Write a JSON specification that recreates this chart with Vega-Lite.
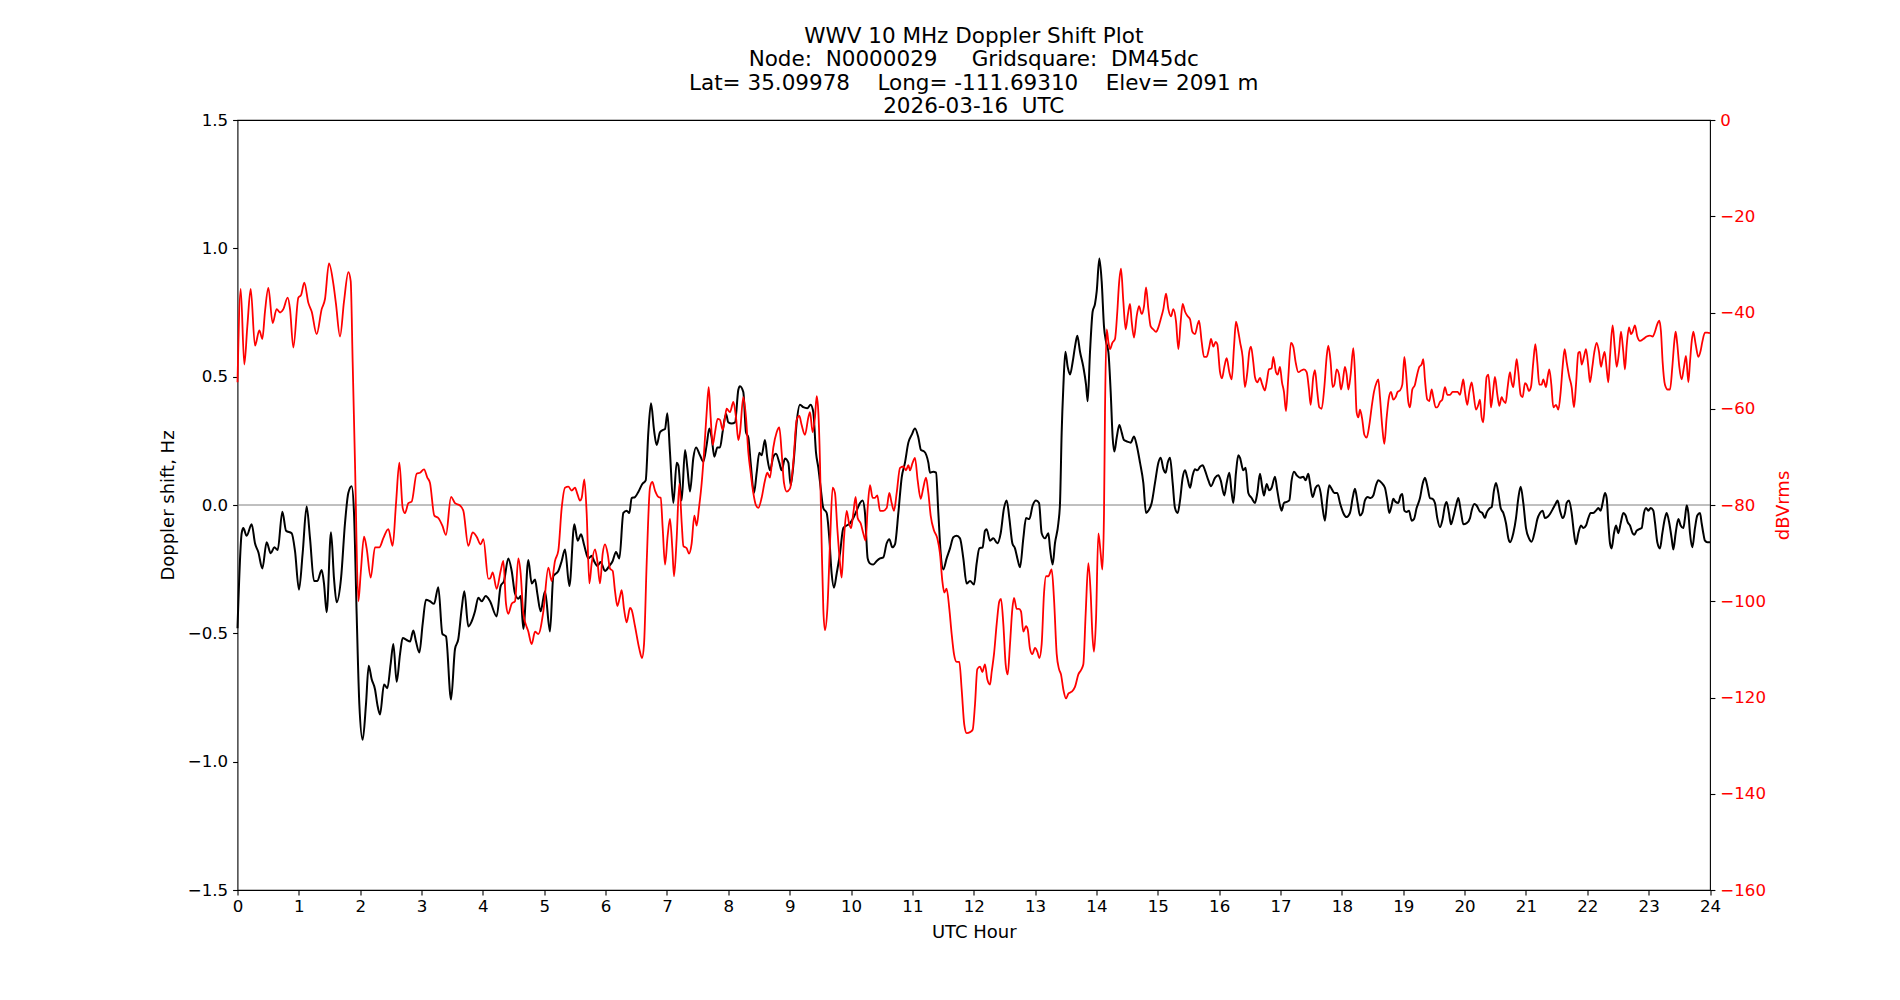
{
  "$schema": "https://vega.github.io/schema/vega-lite/v6.json",
  "width": 1472.5,
  "height": 770,
  "autosize": {"type": "none"},
  "padding": {"left": 237.5, "top": 120, "right": 190, "bottom": 110},
  "background": "white",
  "title": {
    "text": [
      "WWV 10 MHz Doppler Shift Plot",
      "Node:\u00a0\u00a0N0000029\u00a0\u00a0\u00a0\u00a0\u00a0Gridsquare:\u00a0\u00a0DM45dc",
      "Lat=\u00a035.09978\u00a0\u00a0\u00a0\u00a0Long=\u00a0-111.69310\u00a0\u00a0\u00a0\u00a0Elev=\u00a02091\u00a0m",
      "2026-03-16\u00a0\u00a0UTC"
    ],
    "font": "DejaVu Sans",
    "fontSize": 21.5,
    "fontWeight": "normal",
    "color": "black",
    "lineHeight": 23.3,
    "offset": -5.5,
    "anchor": "middle"
  },
  "config": {
    "view": {"stroke": "black", "strokeWidth": 1.1},
    "axis": {
      "labelFont": "DejaVu Sans",
      "labelFontSize": 16.67,
      "labelColor": "black",
      "titleFont": "DejaVu Sans",
      "titleFontSize": 18,
      "titleFontWeight": "normal",
      "titleColor": "black",
      "tickColor": "black",
      "tickWidth": 1.1,
      "tickSize": 4.9,
      "labelPadding": 4.9,
      "domain": false,
      "grid": false,
      "labelFlush": false,
      "labelOverlap": false,
      "labelBound": false
    }
  },
  "datasets": {
    "doppler": [
      {"h":0,"v":-0.48},{"h":0.068,"v":-0.110},{"h":0.095,"v":-0.090},{"h":0.149,"v":-0.120},{"h":0.231,"v":-0.075},{"h":0.285,"v":-0.149},{"h":0.340,"v":-0.184},{"h":0.405,"v":-0.247},{"h":0.475,"v":-0.145},{"h":0.541,"v":-0.188},{"h":0.600,"v":-0.165},{"h":0.655,"v":-0.175},{"h":0.731,"v":-0.026},{"h":0.791,"v":-0.100},{"h":0.883,"v":-0.110},{"h":0.937,"v":-0.179},{"h":1.002,"v":-0.330},{"h":1.062,"v":-0.188},{"h":1.127,"v":-0.006},{"h":1.182,"v":-0.130},{"h":1.247,"v":-0.296},{"h":1.301,"v":-0.296},{"h":1.372,"v":-0.253},{"h":1.410,"v":-0.306},{"h":1.453,"v":-0.418},{"h":1.524,"v":-0.106},{"h":1.573,"v":-0.287},{"h":1.616,"v":-0.379},{"h":1.687,"v":-0.287},{"h":1.752,"v":-0.071},{"h":1.806,"v":0.047},{"h":1.861,"v":0.073},{"h":1.899,"v":-0.031},{"h":1.942,"v":-0.424},{"h":1.986,"v":-0.777},{"h":2.040,"v":-0.915},{"h":2.094,"v":-0.777},{"h":2.138,"v":-0.626},{"h":2.187,"v":-0.679},{"h":2.241,"v":-0.718},{"h":2.279,"v":-0.777},{"h":2.323,"v":-0.816},{"h":2.388,"v":-0.699},{"h":2.442,"v":-0.714},{"h":2.496,"v":-0.620},{"h":2.540,"v":-0.542},{"h":2.594,"v":-0.689},{"h":2.649,"v":-0.581},{"h":2.692,"v":-0.518},{"h":2.757,"v":-0.526},{"h":2.812,"v":-0.532},{"h":2.866,"v":-0.489},{"h":2.909,"v":-0.532},{"h":2.964,"v":-0.575},{"h":3.018,"v":-0.463},{"h":3.072,"v":-0.369},{"h":3.137,"v":-0.375},{"h":3.203,"v":-0.385},{"h":3.273,"v":-0.320},{"h":3.339,"v":-0.502},{"h":3.398,"v":-0.512},{"h":3.480,"v":-0.758},{"h":3.545,"v":-0.561},{"h":3.599,"v":-0.522},{"h":3.654,"v":-0.404},{"h":3.697,"v":-0.336},{"h":3.762,"v":-0.473},{"h":3.817,"v":-0.453},{"h":3.871,"v":-0.414},{"h":3.925,"v":-0.361},{"h":3.980,"v":-0.375},{"h":4.045,"v":-0.355},{"h":4.116,"v":-0.375},
      {"h":4.224,"v":-0.434},{"h":4.289,"v":-0.316},{"h":4.344,"v":-0.296},{"h":4.414,"v":-0.208},{"h":4.469,"v":-0.257},{"h":4.523,"v":-0.345},{"h":4.577,"v":-0.365},{"h":4.615,"v":-0.355},{"h":4.659,"v":-0.483},{"h":4.740,"v":-0.214},{"h":4.795,"v":-0.306},{"h":4.849,"v":-0.290},{"h":4.887,"v":-0.345},{"h":4.941,"v":-0.414},{"h":5.012,"v":-0.336},{"h":5.093,"v":-0.493},{"h":5.148,"v":-0.277},{"h":5.229,"v":-0.257},{"h":5.284,"v":-0.218},{"h":5.338,"v":-0.173},{"h":5.409,"v":-0.316},{"h":5.490,"v":-0.075},{"h":5.544,"v":-0.139},{"h":5.599,"v":-0.114},{"h":5.653,"v":-0.159},{"h":5.718,"v":-0.208},{"h":5.773,"v":-0.198},{"h":5.811,"v":-0.218},{"h":5.865,"v":-0.237},{"h":5.919,"v":-0.222},{"h":5.990,"v":-0.257},{"h":6.061,"v":-0.237},{"h":6.115,"v":-0.218},{"h":6.169,"v":-0.183},{"h":6.224,"v":-0.208},{"h":6.289,"v":-0.031},{"h":6.343,"v":-0.022},{"h":6.386,"v":-0.031},{"h":6.424,"v":0.027},{"h":6.479,"v":0.031},{"h":6.533,"v":0.051},{"h":6.598,"v":0.082},{"h":6.653,"v":0.096},{"h":6.696,"v":0.283},{"h":6.740,"v":0.396},{"h":6.789,"v":0.292},{"h":6.832,"v":0.234},{"h":6.886,"v":0.283},{"h":6.930,"v":0.292},{"h":6.968,"v":0.296},{"h":7.006,"v":0.357},{"h":7.049,"v":0.204},{"h":7.104,"v":0.008},{"h":7.158,"v":0.165},{"h":7.185,"v":0.155},{"h":7.239,"v":0.018},{"h":7.294,"v":0.214},{"h":7.332,"v":0.145},{"h":7.375,"v":0.053},{"h":7.430,"v":0.184},{"h":7.473,"v":0.224},{"h":7.538,"v":0.194},{"h":7.593,"v":0.169},{"h":7.647,"v":0.234},{"h":7.690,"v":0.298},{"h":7.728,"v":0.263},{"h":7.772,"v":0.188},{"h":7.821,"v":0.224},{"h":7.864,"v":0.224},{"h":7.908,"v":0.287},{"h":7.962,"v":0.355},{"h":8.000,"v":0.322},{"h":8.054,"v":0.318},{"h":8.109,"v":0.322},{"h":8.163,"v":0.449},{"h":8.190,"v":0.463},
      {"h":8.244,"v":0.440},{"h":8.288,"v":0.283},{"h":8.326,"v":0.263},{"h":8.364,"v":0.165},{"h":8.418,"v":0.047},{"h":8.462,"v":0.126},{"h":8.505,"v":0.204},{"h":8.543,"v":0.194},{"h":8.597,"v":0.253},{"h":8.635,"v":0.184},{"h":8.679,"v":0.135},{"h":8.733,"v":0.188},{"h":8.777,"v":0.200},{"h":8.831,"v":0.165},{"h":8.869,"v":0.135},{"h":8.923,"v":0.181},{"h":8.978,"v":0.165},{"h":9.016,"v":0.077},{"h":9.070,"v":0.184},{"h":9.114,"v":0.322},{"h":9.168,"v":0.391},{"h":9.222,"v":0.381},{"h":9.287,"v":0.377},{"h":9.342,"v":0.391},{"h":9.385,"v":0.361},{"h":9.429,"v":0.204},{"h":9.467,"v":0.145},{"h":9.505,"v":0.067},{"h":9.548,"v":-0.012},{"h":9.603,"v":-0.031},{"h":9.646,"v":-0.130},{"h":9.684,"v":-0.267},{"h":9.722,"v":-0.322},{"h":9.766,"v":-0.267},{"h":9.820,"v":-0.188},{"h":9.874,"v":-0.090},{"h":9.929,"v":-0.080},{"h":9.983,"v":-0.071},{"h":10.037,"v":-0.051},{"h":10.092,"v":-0.022},{"h":10.146,"v":0.008},{"h":10.189,"v":0.018},{"h":10.227,"v":-0.031},{"h":10.271,"v":-0.208},{"h":10.309,"v":-0.228},{"h":10.363,"v":-0.232},{"h":10.418,"v":-0.218},{"h":10.472,"v":-0.208},{"h":10.526,"v":-0.204},{"h":10.581,"v":-0.149},{"h":10.624,"v":-0.133},{"h":10.673,"v":-0.165},{"h":10.716,"v":-0.153},{"h":10.771,"v":-0.031},{"h":10.825,"v":0.106},{"h":10.879,"v":0.165},{"h":10.934,"v":0.243},{"h":10.988,"v":0.273},{"h":11.042,"v":0.298},{"h":11.097,"v":0.263},{"h":11.140,"v":0.214},{"h":11.194,"v":0.208},{"h":11.260,"v":0.165},{"h":11.287,"v":0.126},{"h":11.341,"v":0.130},{"h":11.385,"v":0.126},{"h":11.423,"v":-0.031},{"h":11.461,"v":-0.188},{"h":11.504,"v":-0.251},{"h":11.558,"v":-0.208},{"h":11.613,"v":-0.169},{"h":11.667,"v":-0.126},{"h":11.721,"v":-0.120},{"h":11.776,"v":-0.130},{"h":11.830,"v":-0.208},{"h":11.884,"v":-0.306},{"h":11.939,"v":-0.296},{"h":12.004,"v":-0.310},{"h":12.047,"v":-0.228},{"h":12.091,"v":-0.169},{"h":12.145,"v":-0.165},{"h":12.183,"v":-0.100},{"h":12.210,"v":-0.094},{"h":12.265,"v":-0.139},
      {"h":12.319,"v":-0.130},{"h":12.385,"v":-0.149},{"h":12.439,"v":-0.110},{"h":12.493,"v":-0.012},{"h":12.537,"v":0.018},{"h":12.580,"v":-0.051},{"h":12.629,"v":-0.149},{"h":12.672,"v":-0.169},{"h":12.711,"v":-0.208},{"h":12.754,"v":-0.243},{"h":12.808,"v":-0.130},{"h":12.852,"v":-0.051},{"h":12.906,"v":-0.055},{"h":12.960,"v":-0.002},{"h":13.015,"v":0.018},{"h":13.064,"v":0.008},{"h":13.107,"v":-0.110},{"h":13.161,"v":-0.130},{"h":13.216,"v":-0.110},{"h":13.243,"v":-0.169},{"h":13.286,"v":-0.232},{"h":13.324,"v":-0.149},{"h":13.379,"v":-0.071},{"h":13.406,"v":0.008},{"h":13.433,"v":0.283},{"h":13.460,"v":0.459},{"h":13.493,"v":0.597},{"h":13.531,"v":0.538},{"h":13.569,"v":0.508},{"h":13.612,"v":0.557},{"h":13.650,"v":0.616},{"h":13.688,"v":0.659},{"h":13.732,"v":0.597},{"h":13.786,"v":0.538},{"h":13.830,"v":0.469},{"h":13.857,"v":0.404},{"h":13.895,"v":0.597},{"h":13.938,"v":0.754},{"h":13.976,"v":0.783},{"h":14.004,"v":0.832},{"h":14.047,"v":0.960},{"h":14.085,"v":0.871},{"h":14.123,"v":0.695},{"h":14.156,"v":0.636},{"h":14.194,"v":0.597},{"h":14.232,"v":0.440},{"h":14.264,"v":0.263},{"h":14.292,"v":0.208},{"h":14.330,"v":0.263},{"h":14.373,"v":0.312},{"h":14.411,"v":0.283},{"h":14.449,"v":0.253},{"h":14.503,"v":0.247},{"h":14.558,"v":0.243},{"h":14.612,"v":0.267},{"h":14.655,"v":0.234},{"h":14.710,"v":0.165},{"h":14.764,"v":0.086},{"h":14.808,"v":-0.031},{"h":14.846,"v":-0.022},{"h":14.900,"v":0.008},{"h":14.954,"v":0.086},{"h":15.009,"v":0.165},{"h":15.047,"v":0.184},{"h":15.090,"v":0.141},{"h":15.128,"v":0.126},{"h":15.161,"v":0.165},{"h":15.199,"v":0.184},{"h":15.242,"v":0.086},{"h":15.280,"v":-0.012},{"h":15.324,"v":-0.031},{"h":15.362,"v":0.018},{"h":15.405,"v":0.106},{"h":15.443,"v":0.135},{"h":15.481,"v":0.106},{"h":15.525,"v":0.067},{"h":15.568,"v":0.116},{"h":15.606,"v":0.139},{"h":15.644,"v":0.135},{"h":15.688,"v":0.149},{"h":15.731,"v":0.155},{"h":15.769,"v":0.135},{"h":15.824,"v":0.096},{"h":15.867,"v":0.073},{"h":15.932,"v":0.106},{"h":15.987,"v":0.116},{"h":16.025,"v":0.096},{"h":16.084,"v":0.037},{"h":16.122,"v":0.086},{"h":16.166,"v":0.126},{"h":16.204,"v":0.047},{"h":16.231,"v":0.008},{"h":16.274,"v":0.126},{"h":16.312,"v":0.194},{"h":16.340,"v":0.184},
      {"h":16.393,"v":0.135},{"h":16.431,"v":0.145},{"h":16.475,"v":0.047},{"h":16.529,"v":0.027},{"h":16.583,"v":0.008},{"h":16.622,"v":0.047},{"h":16.665,"v":0.122},{"h":16.703,"v":0.067},{"h":16.730,"v":0.037},{"h":16.774,"v":0.082},{"h":16.817,"v":0.057},{"h":16.855,"v":0.067},{"h":16.909,"v":0.110},{"h":16.947,"v":0.057},{"h":16.991,"v":-0.002},{"h":17.018,"v":-0.022},{"h":17.056,"v":0.008},{"h":17.100,"v":0.012},{"h":17.143,"v":0.018},{"h":17.181,"v":0.096},{"h":17.219,"v":0.130},{"h":17.263,"v":0.116},{"h":17.317,"v":0.106},{"h":17.371,"v":0.110},{"h":17.409,"v":0.096},{"h":17.453,"v":0.122},{"h":17.480,"v":0.086},{"h":17.523,"v":0.031},{"h":17.572,"v":0.067},{"h":17.616,"v":0.077},{"h":17.654,"v":0.047},{"h":17.686,"v":-0.012},{"h":17.724,"v":-0.061},{"h":17.762,"v":0.027},{"h":17.795,"v":0.077},{"h":17.833,"v":0.063},{"h":17.877,"v":0.047},{"h":17.925,"v":0.047},{"h":17.969,"v":0.008},{"h":18.023,"v":-0.031},{"h":18.078,"v":-0.047},{"h":18.132,"v":-0.031},{"h":18.175,"v":0.027},{"h":18.213,"v":0.063},{"h":18.257,"v":0.008},{"h":18.295,"v":-0.041},{"h":18.333,"v":-0.031},{"h":18.376,"v":0.018},{"h":18.420,"v":0.031},{"h":18.469,"v":0.027},{"h":18.512,"v":0.037},{"h":18.556,"v":0.077},{"h":18.594,"v":0.096},{"h":18.648,"v":0.086},{"h":18.702,"v":0.067},{"h":18.740,"v":0.018},{"h":18.773,"v":-0.031},{"h":18.811,"v":-0.002},{"h":18.838,"v":0.024},{"h":18.876,"v":0.012},{"h":18.920,"v":0.008},{"h":18.958,"v":0.037},{"h":18.985,"v":0.043},{"h":19.018,"v":-0.022},{"h":19.056,"v":-0.027},{"h":19.094,"v":-0.022},{"h":19.137,"v":-0.061},{"h":19.175,"v":-0.055},{"h":19.218,"v":-0.012},{"h":19.273,"v":0.027},{"h":19.316,"v":0.082},{"h":19.354,"v":0.106},{"h":19.398,"v":0.067},{"h":19.436,"v":0.027},{"h":19.479,"v":0.024},{"h":19.517,"v":0.008},{"h":19.555,"v":-0.051},{"h":19.599,"v":-0.086},{"h":19.642,"v":-0.055},{"h":19.680,"v":-0.002},{"h":19.707,"v":0.012},{"h":19.745,"v":-0.031},{"h":19.778,"v":-0.075},{"h":19.816,"v":-0.047},{"h":19.860,"v":-0.002},{"h":19.898,"v":0.027},{"h":19.941,"v":-0.027},{"h":19.979,"v":-0.075},{"h":20.034,"v":-0.071},{"h":20.088,"v":-0.051},{"h":20.115,"v":-0.022},{"h":20.158,"v":0.004},{"h":20.196,"v":-0.002},{"h":20.251,"v":-0.026},{"h":20.289,"v":-0.031},{"h":20.332,"v":-0.051},{"h":20.359,"v":-0.031},{"h":20.414,"v":-0.012},
      {"h":20.441,"v":-0.008},{"h":20.479,"v":0.057},{"h":20.512,"v":0.086},{"h":20.550,"v":0.047},{"h":20.588,"v":-0.012},{"h":20.631,"v":-0.031},{"h":20.675,"v":-0.071},{"h":20.713,"v":-0.130},{"h":20.740,"v":-0.145},{"h":20.794,"v":-0.110},{"h":20.838,"v":-0.051},{"h":20.876,"v":0.027},{"h":20.914,"v":0.071},{"h":20.957,"v":0.008},{"h":21.001,"v":-0.090},{"h":21.050,"v":-0.130},{"h":21.093,"v":-0.143},{"h":21.147,"v":-0.100},{"h":21.186,"v":-0.055},{"h":21.229,"v":-0.031},{"h":21.272,"v":-0.022},{"h":21.310,"v":-0.051},{"h":21.349,"v":-0.047},{"h":21.392,"v":-0.035},{"h":21.446,"v":-0.012},{"h":21.490,"v":0.008},{"h":21.517,"v":0.018},{"h":21.555,"v":-0.022},{"h":21.598,"v":-0.051},{"h":21.636,"v":-0.031},{"h":21.664,"v":0.008},{"h":21.702,"v":0.018},{"h":21.745,"v":-0.031},{"h":21.783,"v":-0.110},{"h":21.816,"v":-0.153},{"h":21.854,"v":-0.110},{"h":21.897,"v":-0.080},{"h":21.935,"v":-0.090},{"h":21.979,"v":-0.080},{"h":22.017,"v":-0.051},{"h":22.055,"v":-0.031},{"h":22.098,"v":-0.031},{"h":22.142,"v":-0.022},{"h":22.180,"v":-0.012},{"h":22.218,"v":-0.022},{"h":22.250,"v":0.008},{"h":22.288,"v":0.047},{"h":22.316,"v":0.027},{"h":22.343,"v":-0.071},{"h":22.370,"v":-0.149},{"h":22.397,"v":-0.169},{"h":22.435,"v":-0.110},{"h":22.468,"v":-0.080},{"h":22.506,"v":-0.110},{"h":22.544,"v":-0.071},{"h":22.587,"v":-0.031},{"h":22.625,"v":-0.041},{"h":22.658,"v":-0.067},{"h":22.696,"v":-0.080},{"h":22.739,"v":-0.110},{"h":22.766,"v":-0.116},{"h":22.805,"v":-0.100},{"h":22.848,"v":-0.094},{"h":22.886,"v":-0.090},{"h":22.924,"v":-0.031},{"h":22.957,"v":-0.012},{"h":22.995,"v":-0.022},{"h":23.033,"v":-0.012},{"h":23.076,"v":-0.022},{"h":23.103,"v":-0.067},{"h":23.141,"v":-0.145},{"h":23.185,"v":-0.169},{"h":23.223,"v":-0.110},{"h":23.266,"v":-0.051},{"h":23.293,"v":-0.031},{"h":23.337,"v":-0.071},{"h":23.375,"v":-0.130},{"h":23.402,"v":-0.173},{"h":23.440,"v":-0.110},{"h":23.484,"v":-0.055},{"h":23.522,"v":-0.080},{"h":23.565,"v":-0.090},{"h":23.592,"v":-0.051},{"h":23.620,"v":-0.002},{"h":23.647,"v":-0.031},{"h":23.674,"v":-0.110},{"h":23.712,"v":-0.165},{"h":23.755,"v":-0.090},{"h":23.793,"v":-0.041},{"h":23.837,"v":-0.031},{"h":23.864,"v":-0.071},{"h":23.891,"v":-0.110},{"h":23.918,"v":-0.139},{"h":23.956,"v":-0.145},{"h":24.0,"v":-0.145}
    ],
    "power": [
      {"h":0,"v":-54.5},{"h":0.052,"v":-35.1},{"h":0.111,"v":-50.8},{"h":0.160,"v":-42.9},{"h":0.215,"v":-35.1},{"h":0.285,"v":-46.9},{"h":0.356,"v":-43.7},{"h":0.405,"v":-45.5},{"h":0.448,"v":-39.8},{"h":0.503,"v":-34.9},{"h":0.573,"v":-42.2},{"h":0.638,"v":-39.3},{"h":0.693,"v":-40.0},{"h":0.747,"v":-39.3},{"h":0.818,"v":-36.9},{"h":0.856,"v":-39.3},{"h":0.910,"v":-47.3},{"h":0.992,"v":-36.9},{"h":1.035,"v":-36.4},{"h":1.089,"v":-33.8},{"h":1.155,"v":-38.0},{"h":1.209,"v":-39.8},{"h":1.290,"v":-44.5},{"h":1.372,"v":-39.3},{"h":1.426,"v":-37.2},{"h":1.491,"v":-29.8},{"h":1.562,"v":-34.0},{"h":1.605,"v":-38.2},{"h":1.671,"v":-45.0},{"h":1.736,"v":-37.7},{"h":1.807,"v":-31.6},{"h":1.845,"v":-33.5},{"h":1.877,"v":-50.3},{"h":1.915,"v":-71.2},{"h":1.970,"v":-100.0},{"h":2.008,"v":-94.2},{"h":2.062,"v":-86.6},{"h":2.105,"v":-89.0},{"h":2.171,"v":-95.1},{"h":2.241,"v":-88.8},{"h":2.312,"v":-88.8},{"h":2.377,"v":-86.9},{"h":2.458,"v":-85.0},{"h":2.529,"v":-88.5},{"h":2.584,"v":-79.6},{"h":2.638,"v":-71.2},{"h":2.692,"v":-80.6},{"h":2.730,"v":-81.7},{"h":2.785,"v":-79.6},{"h":2.839,"v":-79.3},{"h":2.920,"v":-73.5},{"h":2.975,"v":-73.3},{"h":3.040,"v":-72.6},{"h":3.094,"v":-74.3},{"h":3.137,"v":-75.4},{"h":3.208,"v":-82.2},{"h":3.273,"v":-82.7},{"h":3.339,"v":-84.3},{"h":3.398,"v":-86.2},{"h":3.480,"v":-78.3},{"h":3.545,"v":-79.6},{"h":3.627,"v":-80.1},{"h":3.681,"v":-81.2},{"h":3.762,"v":-88.5},{"h":3.833,"v":-85.7},{"h":3.898,"v":-86.6},{"h":3.963,"v":-88.2},{"h":4.007,"v":-87.1},{"h":4.088,"v":-95.3},{"h":4.116,"v":-95.3},
      {"h":4.159,"v":-94.0},{"h":4.224,"v":-97.4},{"h":4.289,"v":-93.7},{"h":4.333,"v":-91.6},{"h":4.376,"v":-100.5},{"h":4.414,"v":-102.6},{"h":4.469,"v":-100.5},{"h":4.523,"v":-100.0},{"h":4.577,"v":-91.1},{"h":4.615,"v":-94.2},{"h":4.659,"v":-102.6},{"h":4.740,"v":-106.3},{"h":4.795,"v":-108.9},{"h":4.849,"v":-106.3},{"h":4.903,"v":-106.8},{"h":4.985,"v":-102.1},{"h":5.066,"v":-93.0},{"h":5.121,"v":-95.8},{"h":5.175,"v":-91.6},{"h":5.229,"v":-89.5},{"h":5.284,"v":-80.6},{"h":5.338,"v":-76.4},{"h":5.392,"v":-76.2},{"h":5.447,"v":-77.0},{"h":5.501,"v":-76.4},{"h":5.539,"v":-77.7},{"h":5.582,"v":-79.1},{"h":5.610,"v":-78.5},{"h":5.653,"v":-74.7},{"h":5.691,"v":-81.7},{"h":5.735,"v":-96.3},{"h":5.773,"v":-92.1},{"h":5.827,"v":-89.2},{"h":5.865,"v":-91.6},{"h":5.908,"v":-96.3},{"h":5.952,"v":-90.1},{"h":5.990,"v":-88.2},{"h":6.033,"v":-90.1},{"h":6.071,"v":-93.2},{"h":6.115,"v":-93.7},{"h":6.153,"v":-97.9},{"h":6.191,"v":-101.0},{"h":6.234,"v":-99.0},{"h":6.262,"v":-97.7},{"h":6.300,"v":-101.6},{"h":6.343,"v":-104.4},{"h":6.397,"v":-101.4},{"h":6.424,"v":-101.8},{"h":6.479,"v":-105.2},{"h":6.549,"v":-109.9},{"h":6.593,"v":-111.8},{"h":6.626,"v":-108.9},{"h":6.669,"v":-92.1},{"h":6.723,"v":-76.4},{"h":6.761,"v":-75.2},{"h":6.805,"v":-77.0},{"h":6.859,"v":-78.3},{"h":6.897,"v":-78.5},{"h":6.930,"v":-84.8},{"h":6.968,"v":-92.4},{"h":7.011,"v":-86.4},{"h":7.049,"v":-82.9},{"h":7.087,"v":-89.0},{"h":7.115,"v":-94.8},{"h":7.158,"v":-86.9},{"h":7.201,"v":-75.6},{"h":7.240,"v":-83.8},{"h":7.267,"v":-88.5},{"h":7.321,"v":-89.0},{"h":7.359,"v":-90.1},{"h":7.402,"v":-88.0},{"h":7.446,"v":-82.2},{"h":7.484,"v":-84.3},{"h":7.522,"v":-80.6},{"h":7.566,"v":-75.4},{"h":7.604,"v":-69.1},{"h":7.647,"v":-60.7},{"h":7.680,"v":-55.5},{"h":7.712,"v":-61.8},{"h":7.745,"v":-67.5},{"h":7.783,"v":-64.9},{"h":7.826,"v":-62.1},{"h":7.864,"v":-62.3},{"h":7.908,"v":-64.4},{"h":7.946,"v":-61.8},{"h":7.973,"v":-60.0},{"h":8.027,"v":-60.7},{"h":8.082,"v":-58.6},{"h":8.125,"v":-61.8},{"h":8.163,"v":-66.5},{"h":8.190,"v":-64.9},
      {"h":8.244,"v":-57.6},{"h":8.288,"v":-61.8},{"h":8.326,"v":-69.1},{"h":8.364,"v":-73.3},{"h":8.407,"v":-77.5},{"h":8.451,"v":-80.1},{"h":8.489,"v":-80.6},{"h":8.543,"v":-78.5},{"h":8.597,"v":-74.9},{"h":8.635,"v":-73.3},{"h":8.679,"v":-74.3},{"h":8.733,"v":-68.1},{"h":8.788,"v":-64.9},{"h":8.831,"v":-63.9},{"h":8.869,"v":-69.1},{"h":8.907,"v":-75.4},{"h":8.951,"v":-77.2},{"h":9.005,"v":-76.6},{"h":9.059,"v":-71.2},{"h":9.114,"v":-62.3},{"h":9.157,"v":-61.5},{"h":9.195,"v":-63.4},{"h":9.249,"v":-65.4},{"h":9.304,"v":-61.8},{"h":9.331,"v":-60.7},{"h":9.374,"v":-64.9},{"h":9.412,"v":-61.8},{"h":9.440,"v":-57.4},{"h":9.467,"v":-60.7},{"h":9.494,"v":-71.2},{"h":9.521,"v":-88.0},{"h":9.548,"v":-101.6},{"h":9.575,"v":-106.0},{"h":9.614,"v":-101.6},{"h":9.657,"v":-88.0},{"h":9.700,"v":-76.4},{"h":9.738,"v":-77.5},{"h":9.776,"v":-84.8},{"h":9.820,"v":-92.1},{"h":9.847,"v":-95.1},{"h":9.885,"v":-86.9},{"h":9.929,"v":-81.2},{"h":9.967,"v":-83.8},{"h":10.000,"v":-84.8},{"h":10.037,"v":-81.7},{"h":10.075,"v":-78.3},{"h":10.108,"v":-82.7},{"h":10.157,"v":-83.8},{"h":10.200,"v":-85.9},{"h":10.238,"v":-87.4},{"h":10.271,"v":-80.6},{"h":10.309,"v":-75.9},{"h":10.352,"v":-78.5},{"h":10.390,"v":-78.5},{"h":10.428,"v":-78.0},{"h":10.472,"v":-81.2},{"h":10.526,"v":-81.2},{"h":10.581,"v":-80.6},{"h":10.624,"v":-77.5},{"h":10.662,"v":-79.6},{"h":10.700,"v":-81.2},{"h":10.744,"v":-77.5},{"h":10.798,"v":-72.3},{"h":10.852,"v":-72.0},{"h":10.896,"v":-72.8},{"h":10.934,"v":-71.7},{"h":10.961,"v":-72.8},{"h":11.004,"v":-71.2},{"h":11.042,"v":-70.2},{"h":11.086,"v":-74.9},{"h":11.135,"v":-78.7},{"h":11.178,"v":-76.4},{"h":11.222,"v":-74.3},{"h":11.260,"v":-77.5},{"h":11.298,"v":-82.2},{"h":11.352,"v":-85.3},{"h":11.406,"v":-86.9},{"h":11.450,"v":-90.1},{"h":11.488,"v":-95.8},{"h":11.520,"v":-98.2},{"h":11.558,"v":-97.4},{"h":11.602,"v":-101.6},{"h":11.640,"v":-106.8},{"h":11.678,"v":-111.0},{"h":11.721,"v":-112.6},{"h":11.765,"v":-112.6},{"h":11.803,"v":-118.3},{"h":11.846,"v":-125.7},{"h":11.884,"v":-127.4},{"h":11.939,"v":-127.2},{"h":11.982,"v":-126.7},{"h":12.020,"v":-121.5},{"h":12.058,"v":-114.1},{"h":12.102,"v":-113.6},{"h":12.140,"v":-114.7},{"h":12.183,"v":-113.1},{"h":12.221,"v":-116.2},{"h":12.265,"v":-117.3},
      {"h":12.292,"v":-114.7},{"h":12.330,"v":-111.0},{"h":12.374,"v":-104.7},{"h":12.417,"v":-100.0},{"h":12.444,"v":-99.5},{"h":12.482,"v":-104.7},{"h":12.520,"v":-113.1},{"h":12.553,"v":-115.2},{"h":12.591,"v":-108.9},{"h":12.629,"v":-101.6},{"h":12.656,"v":-99.3},{"h":12.700,"v":-101.6},{"h":12.738,"v":-101.6},{"h":12.770,"v":-102.1},{"h":12.808,"v":-106.3},{"h":12.852,"v":-105.2},{"h":12.879,"v":-105.8},{"h":12.917,"v":-109.9},{"h":12.955,"v":-111.0},{"h":12.998,"v":-109.7},{"h":13.036,"v":-110.5},{"h":13.069,"v":-111.8},{"h":13.107,"v":-108.9},{"h":13.145,"v":-98.4},{"h":13.178,"v":-94.8},{"h":13.216,"v":-94.8},{"h":13.270,"v":-93.4},{"h":13.308,"v":-99.5},{"h":13.352,"v":-111.0},{"h":13.390,"v":-114.1},{"h":13.422,"v":-115.2},{"h":13.460,"v":-118.3},{"h":13.504,"v":-120.2},{"h":13.542,"v":-119.2},{"h":13.596,"v":-118.8},{"h":13.650,"v":-117.8},{"h":13.705,"v":-115.2},{"h":13.748,"v":-114.3},{"h":13.786,"v":-113.1},{"h":13.824,"v":-102.6},{"h":13.868,"v":-92.1},{"h":13.906,"v":-98.4},{"h":13.933,"v":-106.8},{"h":13.960,"v":-110.5},{"h":13.993,"v":-103.7},{"h":14.031,"v":-85.9},{"h":14.069,"v":-90.1},{"h":14.096,"v":-93.4},{"h":14.123,"v":-81.7},{"h":14.139,"v":-60.7},{"h":14.167,"v":-43.5},{"h":14.194,"v":-46.1},{"h":14.221,"v":-47.6},{"h":14.259,"v":-46.3},{"h":14.302,"v":-45.5},{"h":14.340,"v":-39.8},{"h":14.368,"v":-34.0},{"h":14.400,"v":-30.9},{"h":14.438,"v":-37.7},{"h":14.476,"v":-43.5},{"h":14.514,"v":-40.3},{"h":14.547,"v":-38.2},{"h":14.574,"v":-41.9},{"h":14.612,"v":-45.2},{"h":14.655,"v":-40.8},{"h":14.694,"v":-38.7},{"h":14.737,"v":-40.3},{"h":14.775,"v":-38.7},{"h":14.808,"v":-34.8},{"h":14.846,"v":-39.3},{"h":14.884,"v":-42.9},{"h":14.927,"v":-43.5},{"h":14.971,"v":-44.0},{"h":15.009,"v":-43.1},{"h":15.047,"v":-41.4},{"h":15.090,"v":-39.3},{"h":15.134,"v":-36.1},{"h":15.172,"v":-39.3},{"h":15.215,"v":-40.8},{"h":15.253,"v":-39.3},{"h":15.297,"v":-41.9},{"h":15.335,"v":-47.6},{"h":15.373,"v":-41.9},{"h":15.405,"v":-38.2},{"h":15.443,"v":-39.8},{"h":15.487,"v":-40.8},{"h":15.525,"v":-41.4},{"h":15.563,"v":-44.0},{"h":15.606,"v":-44.5},{"h":15.650,"v":-42.4},{"h":15.672,"v":-41.7},{"h":15.715,"v":-46.1},{"h":15.753,"v":-49.2},{"h":15.796,"v":-49.2},{"h":15.840,"v":-47.1},{"h":15.867,"v":-45.5},{"h":15.905,"v":-47.1},{"h":15.943,"v":-46.1},{"h":15.970,"v":-46.6},{"h":16.014,"v":-52.4},{"h":16.046,"v":-53.7},{"h":16.084,"v":-51.3},{"h":16.122,"v":-49.5},{"h":16.166,"v":-52.4},{"h":16.204,"v":-53.9},{"h":16.242,"v":-47.1},{"h":16.274,"v":-41.9},{"h":16.312,"v":-44.0},{"h":16.340,"v":-46.1},
      {"h":16.382,"v":-49.2},{"h":16.420,"v":-55.5},{"h":16.459,"v":-52.4},{"h":16.491,"v":-48.2},{"h":16.518,"v":-47.1},{"h":16.556,"v":-50.3},{"h":16.583,"v":-53.4},{"h":16.622,"v":-54.5},{"h":16.665,"v":-53.6},{"h":16.703,"v":-55.0},{"h":16.746,"v":-56.2},{"h":16.774,"v":-54.5},{"h":16.812,"v":-51.8},{"h":16.855,"v":-51.6},{"h":16.882,"v":-49.2},{"h":16.926,"v":-52.4},{"h":16.953,"v":-52.9},{"h":16.991,"v":-51.3},{"h":17.024,"v":-54.5},{"h":17.056,"v":-56.5},{"h":17.089,"v":-60.5},{"h":17.127,"v":-53.4},{"h":17.170,"v":-46.3},{"h":17.208,"v":-47.1},{"h":17.246,"v":-50.3},{"h":17.290,"v":-52.4},{"h":17.344,"v":-52.0},{"h":17.382,"v":-51.8},{"h":17.426,"v":-52.4},{"h":17.464,"v":-56.0},{"h":17.491,"v":-59.2},{"h":17.534,"v":-53.4},{"h":17.561,"v":-52.0},{"h":17.599,"v":-56.5},{"h":17.632,"v":-59.7},{"h":17.670,"v":-60.0},{"h":17.714,"v":-55.5},{"h":17.752,"v":-49.2},{"h":17.779,"v":-46.9},{"h":17.817,"v":-50.3},{"h":17.849,"v":-55.5},{"h":17.877,"v":-55.0},{"h":17.915,"v":-51.8},{"h":17.953,"v":-52.9},{"h":17.985,"v":-56.0},{"h":18.012,"v":-54.5},{"h":18.050,"v":-51.3},{"h":18.078,"v":-52.9},{"h":18.105,"v":-56.0},{"h":18.143,"v":-52.9},{"h":18.186,"v":-47.4},{"h":18.213,"v":-52.4},{"h":18.240,"v":-60.7},{"h":18.268,"v":-61.8},{"h":18.295,"v":-60.2},{"h":18.333,"v":-62.3},{"h":18.366,"v":-65.4},{"h":18.404,"v":-66.0},{"h":18.447,"v":-63.4},{"h":18.485,"v":-59.7},{"h":18.523,"v":-56.5},{"h":18.567,"v":-54.5},{"h":18.594,"v":-53.9},{"h":18.621,"v":-57.6},{"h":18.659,"v":-63.9},{"h":18.692,"v":-67.3},{"h":18.730,"v":-61.8},{"h":18.768,"v":-57.6},{"h":18.800,"v":-56.5},{"h":18.838,"v":-58.1},{"h":18.876,"v":-57.6},{"h":18.909,"v":-56.5},{"h":18.947,"v":-56.2},{"h":18.985,"v":-55.0},{"h":19.018,"v":-49.2},{"h":19.045,"v":-52.4},{"h":19.083,"v":-58.6},{"h":19.110,"v":-59.7},{"h":19.148,"v":-56.0},{"h":19.191,"v":-55.0},{"h":19.218,"v":-53.4},{"h":19.262,"v":-51.3},{"h":19.300,"v":-50.8},{"h":19.327,"v":-49.7},{"h":19.354,"v":-53.9},{"h":19.392,"v":-58.1},{"h":19.425,"v":-58.4},{"h":19.463,"v":-56.0},{"h":19.490,"v":-57.6},{"h":19.528,"v":-59.7},{"h":19.555,"v":-59.7},{"h":19.599,"v":-58.6},{"h":19.637,"v":-58.1},{"h":19.680,"v":-55.5},{"h":19.718,"v":-57.1},{"h":19.762,"v":-57.1},{"h":19.805,"v":-56.5},{"h":19.843,"v":-56.5},{"h":19.887,"v":-56.5},{"h":19.925,"v":-57.1},{"h":19.952,"v":-55.5},{"h":19.979,"v":-53.9},{"h":20.006,"v":-56.5},{"h":20.044,"v":-59.2},{"h":20.077,"v":-56.5},{"h":20.115,"v":-54.5},{"h":20.142,"v":-56.5},{"h":20.186,"v":-60.2},{"h":20.224,"v":-59.2},{"h":20.251,"v":-58.1},{"h":20.278,"v":-61.8},{"h":20.305,"v":-62.8},{"h":20.332,"v":-58.1},{"h":20.359,"v":-53.4},{"h":20.387,"v":-52.9},{"h":20.414,"v":-56.5},
      {"h":20.430,"v":-59.7},{"h":20.468,"v":-56.0},{"h":20.495,"v":-53.4},{"h":20.534,"v":-57.1},{"h":20.566,"v":-59.4},{"h":20.604,"v":-57.6},{"h":20.631,"v":-58.3},{"h":20.669,"v":-58.8},{"h":20.702,"v":-55.5},{"h":20.740,"v":-52.4},{"h":20.767,"v":-54.5},{"h":20.794,"v":-55.5},{"h":20.821,"v":-52.6},{"h":20.849,"v":-49.7},{"h":20.876,"v":-52.4},{"h":20.914,"v":-57.1},{"h":20.946,"v":-57.6},{"h":20.984,"v":-54.7},{"h":21.012,"v":-55.0},{"h":21.050,"v":-56.3},{"h":21.082,"v":-55.5},{"h":21.120,"v":-50.3},{"h":21.153,"v":-46.6},{"h":21.185,"v":-50.3},{"h":21.218,"v":-55.0},{"h":21.256,"v":-55.0},{"h":21.283,"v":-53.9},{"h":21.327,"v":-55.5},{"h":21.354,"v":-53.4},{"h":21.381,"v":-51.8},{"h":21.414,"v":-55.0},{"h":21.446,"v":-59.7},{"h":21.490,"v":-59.2},{"h":21.528,"v":-60.2},{"h":21.566,"v":-56.5},{"h":21.598,"v":-51.3},{"h":21.631,"v":-47.6},{"h":21.664,"v":-50.3},{"h":21.707,"v":-53.4},{"h":21.745,"v":-55.5},{"h":21.783,"v":-59.7},{"h":21.816,"v":-55.0},{"h":21.854,"v":-48.4},{"h":21.881,"v":-48.2},{"h":21.908,"v":-50.8},{"h":21.946,"v":-49.2},{"h":21.979,"v":-47.6},{"h":22.017,"v":-51.3},{"h":22.044,"v":-54.5},{"h":22.082,"v":-51.3},{"h":22.115,"v":-48.2},{"h":22.152,"v":-46.3},{"h":22.191,"v":-48.2},{"h":22.223,"v":-51.3},{"h":22.250,"v":-49.7},{"h":22.283,"v":-48.2},{"h":22.316,"v":-51.8},{"h":22.343,"v":-54.5},{"h":22.370,"v":-49.2},{"h":22.413,"v":-42.7},{"h":22.446,"v":-47.1},{"h":22.479,"v":-51.3},{"h":22.517,"v":-48.2},{"h":22.549,"v":-44.0},{"h":22.587,"v":-48.2},{"h":22.614,"v":-51.8},{"h":22.641,"v":-47.1},{"h":22.680,"v":-43.1},{"h":22.712,"v":-44.5},{"h":22.739,"v":-44.0},{"h":22.777,"v":-42.7},{"h":22.815,"v":-45.0},{"h":22.859,"v":-45.9},{"h":22.913,"v":-45.5},{"h":22.967,"v":-45.0},{"h":23.022,"v":-44.8},{"h":23.065,"v":-45.0},{"h":23.103,"v":-44.0},{"h":23.141,"v":-42.4},{"h":23.174,"v":-41.7},{"h":23.201,"v":-44.0},{"h":23.228,"v":-50.3},{"h":23.266,"v":-55.0},{"h":23.310,"v":-56.0},{"h":23.348,"v":-56.0},{"h":23.386,"v":-51.3},{"h":23.418,"v":-46.1},{"h":23.440,"v":-44.0},{"h":23.467,"v":-46.6},{"h":23.500,"v":-51.3},{"h":23.538,"v":-53.9},{"h":23.576,"v":-51.3},{"h":23.609,"v":-49.0},{"h":23.647,"v":-54.5},{"h":23.674,"v":-50.3},{"h":23.701,"v":-46.1},{"h":23.728,"v":-44.0},{"h":23.766,"v":-46.6},{"h":23.810,"v":-49.2},{"h":23.848,"v":-47.9},{"h":23.875,"v":-46.1},{"h":23.918,"v":-44.2},{"h":23.956,"v":-44.2},{"h":24.0,"v":-44.3}
    ]
  },
  "layer": [
    {
      "data": {"values": [{"v": 0}]},
      "mark": {"type": "rule", "color": "#808080", "strokeWidth": 1},
      "encoding": {
        "y": {"field": "v", "type": "quantitative", "scale": {"domain": [-1.5, 1.5], "nice": false, "zero": false}, "axis": null}
      }
    },
    {
      "data": {"name": "doppler"},
      "mark": {"type": "line", "color": "black", "strokeWidth": 2, "interpolate": "monotone"},
      "encoding": {
        "x": {
          "field": "h", "type": "quantitative",
          "scale": {"domain": [0, 24], "nice": false, "zero": false},
          "axis": {"values": [0,1,2,3,4,5,6,7,8,9,10,11,12,13,14,15,16,17,18,19,20,21,22,23,24], "format": "d", "title": "UTC Hour", "titlePadding": 8, "labelPadding": 4}
        },
        "y": {
          "field": "v", "type": "quantitative",
          "scale": {"domain": [-1.5, 1.5], "nice": false, "zero": false},
          "axis": {"orient": "left", "values": [-1.5, -1, -0.5, 0, 0.5, 1, 1.5], "format": ".1f", "title": "Doppler shift, Hz", "titlePadding": 10}
        }
      }
    },
    {
      "data": {"name": "power"},
      "mark": {"type": "line", "color": "red", "strokeWidth": 1.8, "interpolate": "monotone"},
      "encoding": {
        "x": {
          "field": "h", "type": "quantitative",
          "scale": {"domain": [0, 24], "nice": false, "zero": false},
          "axis": {"values": [0,1,2,3,4,5,6,7,8,9,10,11,12,13,14,15,16,17,18,19,20,21,22,23,24], "format": "d", "title": "UTC Hour", "titlePadding": 8, "labelPadding": 4}
        },
        "y": {
          "field": "v", "type": "quantitative",
          "scale": {"domain": [-160, 0], "nice": false, "zero": false},
          "axis": {"orient": "right", "values": [0, -20, -40, -60, -80, -100, -120, -140, -160], "format": "d", "title": "dBVrms", "labelColor": "red", "titleColor": "red", "titleAngle": 270, "titleBaseline": "top", "titlePadding": 9}
        }
      }
    }
  ],
  "resolve": {"scale": {"y": "independent"}, "axis": {"y": "independent"}}
}
